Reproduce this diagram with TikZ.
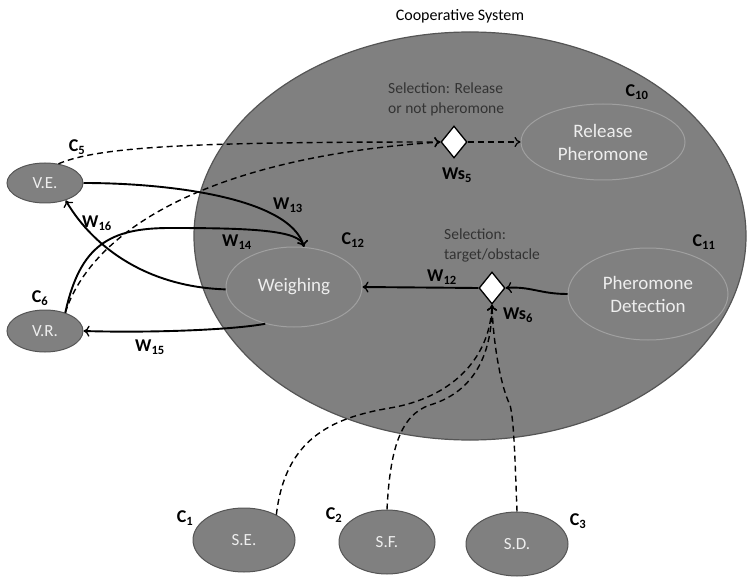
\documentclass[tikz,border=0pt]{standalone}
\usepackage{fontspec}
\setmainfont{Carlito}
\usetikzlibrary{shapes.geometric,arrows.meta,calc}
\definecolor{sysfill}{RGB}{128,128,128}
\definecolor{sysb}{RGB}{85,85,85}
\definecolor{innerb}{RGB}{160,160,160}
\definecolor{txtw}{RGB}{238,238,238}
\begin{document}
\begin{tikzpicture}[x=1pt,y=-1pt,
  sysbox/.style={ellipse,draw=sysb,fill=sysfill,line width=1.2pt,inner sep=0pt},
  sub/.style={ellipse,draw=innerb,fill=sysfill,line width=1pt,text=txtw,inner sep=0pt,align=center,font=\fontsize{19}{23}\selectfont},
  ext/.style={ellipse,draw=sysb,fill=sysfill,line width=1pt,text=txtw,inner sep=0pt,font=\fontsize{17}{20}\selectfont},
  lbl/.style={font=\bfseries\fontsize{18}{20}\selectfont,text=black,inner sep=0pt},
  sel/.style={font=\fontsize{15.5}{20}\selectfont,text=black!80,align=left,inner sep=0pt,anchor=west},
  dec/.style={diamond,draw=black,fill=white,line width=1.3pt,minimum width=26pt,minimum height=32pt,inner sep=0pt},
  arr/.style={-{To[length=6pt,width=11pt,line width=1.3pt]},line width=1.9pt,black},
  darr/.style={-{To[length=6pt,width=10pt,line width=1.2pt]},line width=1.4pt,black,dash pattern=on 6pt off 4pt}]
\useasboundingbox (0,0) rectangle (754,577);
\node[sysbox,minimum width=552pt,minimum height=408pt] (sys) at (470,236) {};
\node[font=\fontsize{16}{19}\selectfont] (title) at (460,16) {Cooperative System};

\node[sub,minimum width=164pt,minimum height=76pt] (rp) at (603,142) {Release\\Pheromone};
\node[sub,minimum width=160pt,minimum height=92pt] (pd) at (648,294) {Pheromone\\Detection};
\node[sub,minimum width=136pt,minimum height=80pt] (w) at (294,287) {Weighing};

\node[ext,minimum width=76pt,minimum height=40pt] (ve) at (45,183) {V.E.};
\node[ext,minimum width=76pt,minimum height=42pt] (vr) at (45,331) {V.R.};
\node[ext,minimum width=102pt,minimum height=64pt] (se) at (244,540) {S.E.};
\node[ext,minimum width=96pt,minimum height=64pt] (sf) at (387,542) {S.F.};
\node[ext,minimum width=102pt,minimum height=64pt] (sd) at (517,544) {S.D.};

\node[dec] (ws5) at (454,142) {};
\node[dec] (ws6) at (492,288) {};

% labels
\node[sel] (sel5) at (388,99) {Selection: Release\\or not pheromone};
\node[sel] (sel6) at (444,245) {Selection:\\target/obstacle};
\node[lbl] (c10) at (637,92) {C\textsubscript{10}};
\node[lbl] (c11) at (704,242) {C\textsubscript{11}};
\node[lbl] (c12) at (353,240) {C\textsubscript{12}};
\node[lbl] (lws5) at (457,175) {Ws\textsubscript{5}};
\node[lbl] (lws6) at (518,315) {Ws\textsubscript{6}};
\node[lbl] (w12) at (442,277) {W\textsubscript{12}};
\node[lbl] (w13) at (288,205) {W\textsubscript{13}};
\node[lbl] (w14) at (237,242) {W\textsubscript{14}};
\node[lbl] (w15) at (150,347) {W\textsubscript{15}};
\node[lbl] (w16) at (97,223) {W\textsubscript{16}};
\node[lbl] (c5) at (77,147) {C\textsubscript{5}};
\node[lbl] (c6) at (40,298) {C\textsubscript{6}};
\node[lbl] (c1) at (185,518) {C\textsubscript{1}};
\node[lbl] (c2) at (334,515) {C\textsubscript{2}};
\node[lbl] (c3) at (578,521) {C\textsubscript{3}};

% solid connectors
\draw[arr] (ve.east) .. controls (170,183) and (290,198) .. (w.76);
\draw[arr] (vr.42) .. controls (80,245) and (110,228) .. (170,228) .. controls (250,228) and (300,230) .. (w.76);
\draw[arr] (w.182) .. controls (150,287) and (95,250) .. (ve.-40);
\draw[arr] (w.-128) .. controls (232,330) and (150,333) .. (vr.east);
\draw[arr] (pd.west) .. controls (540,294) and (530,286) .. (ws6.east);
\draw[arr] (ws6.west) -- (w.east);

% dashed connectors
\draw[darr] (ve.55) .. controls (100,146) and (200,142) .. (ws5.west);
\draw[darr] (vr.42) .. controls (90,235) and (200,158) .. (ws5.west);
\draw[darr] (ws5.east) -- (rp.west);
\draw[darr] (se.38) .. controls (285,440) and (330,418) .. (390,408) .. controls (450,398) and (490,360) .. (ws6.south);
\draw[darr] (sf.north) .. controls (390,450) and (400,415) .. (430,405) .. controls (470,393) and (492,360) .. (ws6.south);
\draw[darr] (sd.north) .. controls (515,460) and (514,420) .. (510,405) .. controls (500,385) and (493,340) .. (ws6.south);
\end{tikzpicture}
\end{document}
